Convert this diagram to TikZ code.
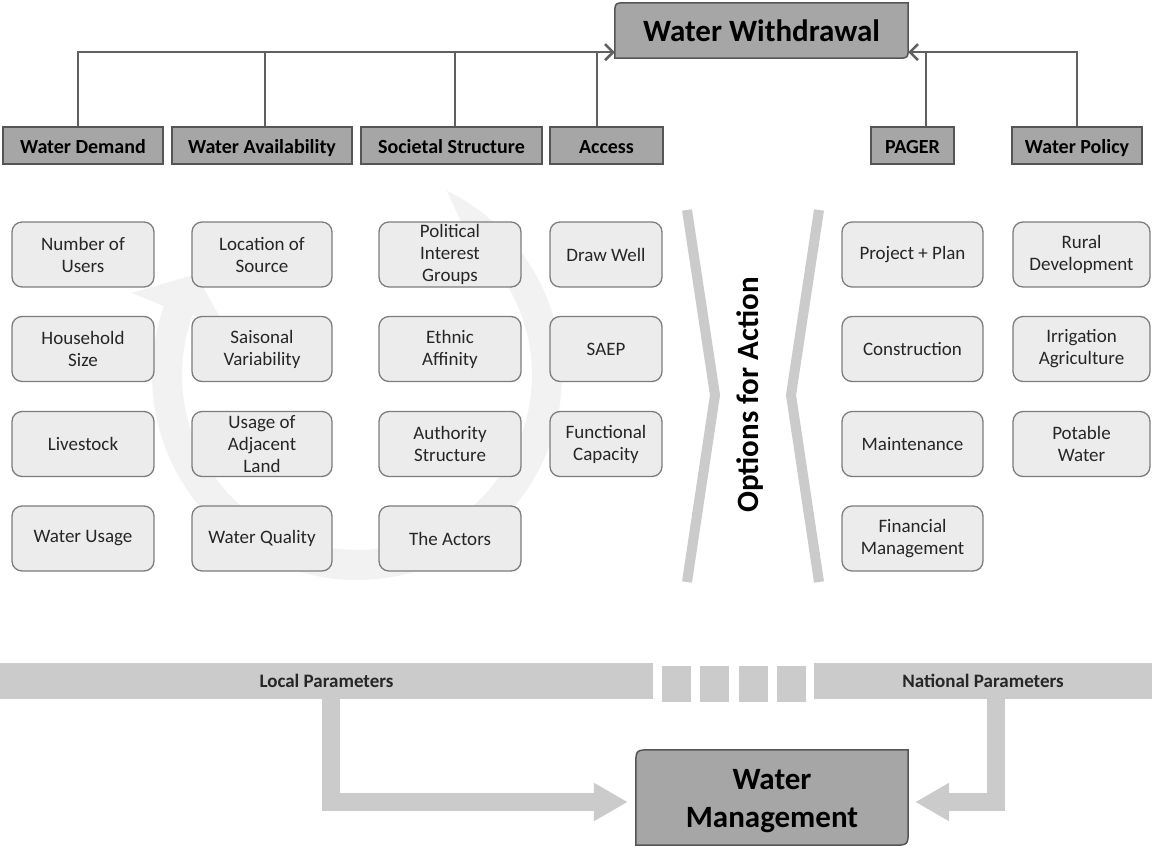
\documentclass[tikz,border=0pt]{standalone}
\usepackage{fontspec}
\setmainfont{Carlito}
\usetikzlibrary{arrows.meta,backgrounds}
\definecolor{hdfill}{RGB}{166,166,166}
\definecolor{hddraw}{RGB}{85,85,85}
\definecolor{bxfill}{RGB}{236,236,236}
\definecolor{bxdraw}{RGB}{125,125,125}
\definecolor{bandc}{RGB}{203,203,203}
\definecolor{circc}{RGB}{242,242,242}
\definecolor{connc}{RGB}{96,96,96}
\definecolor{txtc}{RGB}{38,38,38}
\begin{document}
\begin{tikzpicture}[x=1pt,y=-1pt,
  hbox/.style={rectangle,draw=hddraw,fill=hdfill,line width=1.5pt,minimum height=37pt,inner sep=0pt,text height=15pt,text depth=0pt,font=\bfseries\fontsize{20}{24}\selectfont,text=black},
  ibox/.style={rectangle,rounded corners=10pt,draw=bxdraw,fill=bxfill,line width=1.3pt,minimum height=65pt,inner sep=0pt,align=center,font=\fontsize{19}{22}\selectfont,text=txtc},
  band/.style={fill=bandc,inner sep=0pt,minimum height=36pt,font=\bfseries\fontsize{19}{23}\selectfont,text=txtc},
  conn/.style={draw=connc,line width=2.5pt},
  conntip/.style={conn,-{Straight Barb[length=8pt,width=16pt]}},
  bigarrow/.style={draw=bandc,line width=18pt,-{Triangle[length=34pt,width=36pt]}},
  bracket/.style={draw=bandc,line width=10pt},
  bigbox/.style={fill=hdfill,draw=hddraw,line width=1.5pt}
]
\useasboundingbox (0,0) rectangle (1152,847);

% faint circular arrow
\fill[circc] plot[domain=0:1,samples=120] ({357+205*cos(64-264*\x)},{375-205*sin(64-264*\x)})
  -- ({357+240*cos(-200)},{375-240*sin(-200)})
  -- ({357+190*cos(-212)},{375-190*sin(-212)})
  -- ({357+140*cos(-200)},{375-140*sin(-200)})
  -- plot[domain=0:1,samples=120] ({357+175*cos(-200+250*\x)},{375-175*sin(-200+250*\x)})
  -- cycle;

% title
\node[inner sep=0pt,minimum width=293pt,minimum height=55pt,font=\bfseries\fontsize{31}{37}\selectfont] (ww) at (761.5,30.5) {Water Withdrawal};

% headings
\node[hbox,minimum width=160pt] (wd) at (83,145.5) {Water Demand};
\node[hbox,minimum width=180pt] (wa) at (262,145.5) {Water Availability};
\node[hbox,minimum width=181pt] (ss) at (451.5,145.5) {Societal Structure};
\node[hbox,minimum width=113pt] (ac) at (606.5,145.5) {Access};
\node[hbox,minimum width=83pt] (pg) at (912.5,145.5) {PAGER};
\node[hbox,minimum width=130pt] (wp) at (1077,145.5) {Water Policy};

% connectors to title
\coordinate (wwL) at ([yshift=6pt]ww.south west);
\coordinate (wwR) at ([yshift=6pt]ww.south east);
\coordinate (wdt) at ([xshift=-5pt]wd.north);
\coordinate (wat) at ([xshift=3pt]wa.north);
\coordinate (sst) at ([xshift=3.5pt]ss.north);
\coordinate (act) at ([xshift=-9.5pt]ac.north);
\coordinate (pgt) at ([xshift=13.5pt]pg.north);
\draw[conntip] (wdt) |- (wwL);
\draw[conn] (wat) -- (wat |- wwL);
\draw[conn] (sst) -- (sst |- wwL);
\draw[conn] (act) -- (act |- wwL);
\draw[conntip] (wp.north) |- (wwR);
\draw[conn] (pgt) -- (pgt |- wwR);

% column 1
\node[ibox,minimum width=142pt] (n11) at (83,254.5) {Number of\\Users};
\node[ibox,minimum width=142pt] (n12) at (83,349) {Household\\Size};
\node[ibox,minimum width=142pt] (n13) at (83,444) {Livestock};
\node[ibox,minimum width=142pt] (n14) at (83,538.5) {Water Usage};
% column 2
\node[ibox,minimum width=140pt] (n21) at (262,254.5) {Location of\\Source};
\node[ibox,minimum width=140pt] (n22) at (262,349) {Saisonal\\Variability};
\node[ibox,minimum width=140pt] (n23) at (262,444) {Usage of\\Adjacent\\Land};
\node[ibox,minimum width=140pt] (n24) at (262,538.5) {Water Quality};
% column 3
\node[ibox,minimum width=142pt] (n31) at (450,254.5) {Political\\Interest\\Groups};
\node[ibox,minimum width=142pt] (n32) at (450,349) {Ethnic\\Affinity};
\node[ibox,minimum width=142pt] (n33) at (450,444) {Authority\\Structure};
\node[ibox,minimum width=142pt] (n34) at (450,538.5) {The Actors};
% column 4
\node[ibox,minimum width=112pt] (n41) at (606,254.5) {Draw Well};
\node[ibox,minimum width=112pt] (n42) at (606,349) {SAEP};
\node[ibox,minimum width=112pt] (n43) at (606,444) {Functional\\Capacity};
% column 5
\node[ibox,minimum width=141pt] (n51) at (912.5,254.5) {Project + Plan};
\node[ibox,minimum width=141pt] (n52) at (912.5,349) {Construction};
\node[ibox,minimum width=141pt] (n53) at (912.5,444) {Maintenance};
\node[ibox,minimum width=141pt] (n54) at (912.5,538.5) {Financial\\Management};
% column 6
\node[ibox,minimum width=137pt] (n61) at (1081.5,254.5) {Rural\\Development};
\node[ibox,minimum width=137pt] (n62) at (1081.5,349) {Irrigation\\Agriculture};
\node[ibox,minimum width=137pt] (n63) at (1081.5,444) {Potable\\Water};

% options for action
\draw[bracket] (687,210) -- (715,395) -- (687,582);
\draw[bracket] (819,210) -- (791,395) -- (819,582);
\node[rotate=90,font=\bfseries\fontsize{31}{37}\selectfont] (opt) at (750,395) {Options for Action};

% bottom bars
\node[band,minimum width=653pt] (lp) at (326.5,681) {Local Parameters};
\node[band,minimum width=29pt] (s1) at (676,684) {};
\node[band,minimum width=29pt] (s2) at (714.5,684) {};
\node[band,minimum width=29pt] (s3) at (753,684) {};
\node[band,minimum width=29pt] (s4) at (791,684) {};
\node[band,minimum width=338pt] (np) at (983,681) {National Parameters};

% water management
\node[inner sep=0pt,minimum width=272pt,minimum height=95pt] (wm) at (772,797.5) {};
\node[inner sep=0pt,align=center,font=\bfseries\fontsize{31}{38}\selectfont] (wmt) at ([yshift=-4pt]wm.center) {Water\\Management};

\coordinate (la) at ([xshift=4.5pt]lp.south);
\coordinate (lt) at ([xshift=-8pt,yshift=-4.5pt]wm.west);
\coordinate (ra) at ([xshift=13pt]np.south);
\coordinate (rt) at ([xshift=7pt,yshift=-4.5pt]wm.east);
\draw[bigarrow] (la) |- (lt);
\draw[bigarrow] (ra) |- (rt);

\begin{scope}[on background layer]
\fill[white] (0,0) rectangle (1152,847);
\path[bigbox] (ww.south west) -- ([yshift=-12pt]ww.north west) .. controls (ww.north west) .. ([xshift=12pt]ww.north west) -- (ww.north east) -- ([yshift=12pt]ww.south east) .. controls (ww.south east) .. ([xshift=-12pt]ww.south east) -- cycle;
\path[bigbox] (wm.south west) -- ([yshift=-16pt]wm.north west) .. controls (wm.north west) .. ([xshift=16pt]wm.north west) -- (wm.north east) -- ([yshift=16pt]wm.south east) .. controls (wm.south east) .. ([xshift=-16pt]wm.south east) -- cycle;
\end{scope}
\end{tikzpicture}
\end{document}
